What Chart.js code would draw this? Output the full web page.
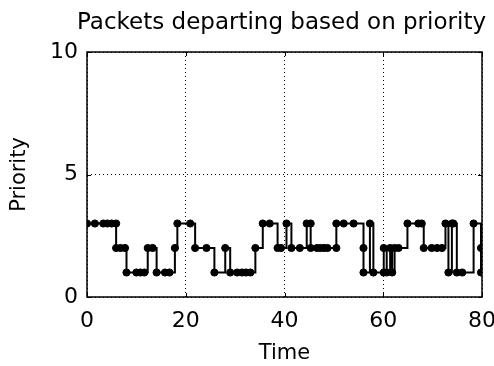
<!DOCTYPE html>
<html>
<head>
<meta charset="utf-8">
<script src="https://cdn.jsdelivr.net/npm/chart.js@4/dist/chart.umd.min.js"></script>
<style>
    html, body { margin: 0; padding: 0; background: #fff; }
    #wrap { width: 494px; height: 366px; }
</style>
</head>
<body>
<div id="wrap"><canvas id="priorityChart" width="494" height="366"></canvas></div>
<script>
// departure times and priorities
const times = [
    0, 1.6, 3.3, 4.1, 5.0, 5.9, 5.9, 6.8, 7.7, 8.0,
    10.0, 10.8, 11.6, 12.3, 13.3, 14.1, 15.8, 16.7, 17.8, 18.3,
    20.9, 21.9, 24.2, 25.8, 28.0, 29.0, 30.4, 31.4, 32.2, 33.1,
    34.1, 35.6, 37.0, 38.6, 39.3, 40.4, 41.4, 43.1, 44.5, 45.3,
    45.3, 46.6, 47.3, 48.0, 48.7, 50.5, 50.5, 52.0, 54.0, 56.0,
    56.0, 57.3, 58.0, 60.1, 60.1, 60.7, 61.4, 61.8, 62.3, 63.1,
    64.9, 67.1, 67.8, 68.2, 69.8, 70.9, 71.9, 72.6, 73.2, 73.9,
    74.2, 74.9, 76.0, 78.3, 79.8, 79.8
];
const priorities = [
    3, 3, 3, 3, 3, 3, 2, 2, 2, 1,
    1, 1, 1, 2, 2, 1, 1, 1, 2, 3,
    3, 2, 2, 1, 2, 1, 1, 1, 1, 1,
    2, 3, 3, 2, 2, 3, 2, 2, 3, 3,
    2, 2, 2, 2, 2, 2, 3, 3, 3, 2,
    1, 3, 1, 1, 2, 1, 2, 1, 2, 2,
    3, 3, 3, 2, 2, 2, 2, 3, 1, 3,
    3, 1, 1, 3, 2, 1
];
const xTicks = [0, 20, 40, 60, 80];
const yTicks = [0, 5, 10];

const titleText = 'Packets departing based on priority';
const fontFamily = '"DejaVu Sans", "Liberation Sans", Arial, sans-serif';

// title centred over the plot area, plus the axes box and inward ticks
const frame = {
    id: 'frame',
    afterDraw(chart) {
        const { ctx, chartArea: a, scales } = chart;
        ctx.save();
        ctx.strokeStyle = '#000';
        ctx.lineWidth = 1.5;
        ctx.strokeRect(a.left, a.top, a.right - a.left, a.bottom - a.top);

        ctx.lineWidth = 1;
        ctx.beginPath();
        xTicks.forEach(v => {
            const px = Math.round(scales.x.getPixelForValue(v)) + 0.5;
            ctx.moveTo(px, a.bottom); ctx.lineTo(px, a.bottom - 4);
            ctx.moveTo(px, a.top); ctx.lineTo(px, a.top + 4);
        });
        yTicks.forEach(v => {
            const py = Math.round(scales.y.getPixelForValue(v)) + 0.5;
            ctx.moveTo(a.left, py); ctx.lineTo(a.left + 4, py);
            ctx.moveTo(a.right, py); ctx.lineTo(a.right - 4, py);
        });
        ctx.stroke();

        ctx.fillStyle = '#000';
        ctx.font = '23px ' + fontFamily;
        ctx.textAlign = 'center';
        ctx.textBaseline = 'alphabetic';
        ctx.fillText(titleText, (a.left + a.right) / 2 - 3, 29);
        ctx.restore();
    }
};

const ctx = document.getElementById('priorityChart');
new Chart(ctx, {
    type: 'line',
    data: {
        datasets: [{
            data: times.map((t, i) => ({ x: t, y: priorities[i] })),
            stepped: 'before',
            borderColor: '#000',
            borderWidth: 2,
            pointRadius: 3.6,
            pointBackgroundColor: '#000',
            pointBorderColor: '#000',
            pointBorderWidth: 1,
            fill: false
        }]
    },
    options: {
        responsive: false,
        animation: false,
        layout: { padding: { top: 52, right: 12, left: 0, bottom: 0 } },
        plugins: {
            legend: { display: false },
            title: { display: false },
            tooltip: { enabled: false }
        },
        scales: {
            x: {
                type: 'linear',
                min: 0,
                max: 80,
                afterFit: s => { s.height = 69; s.paddingRight = 0; s.paddingLeft = 0; },
                afterBuildTicks: s => { s.ticks = xTicks.map(v => ({ value: v })); },
                grid: { color: '#000', lineWidth: 1, drawTicks: false },
                border: { display: false, dash: [1, 3] },
                ticks: { color: '#000', padding: 11, font: { family: fontFamily, size: 22 } },
                title: {
                    display: true,
                    text: 'Time',
                    color: '#000',
                    padding: { top: 0, bottom: 0 },
                    font: { family: fontFamily, size: 21 }
                }
            },
            y: {
                min: 0,
                max: 10,
                afterFit: s => { s.width = 87; },
                afterBuildTicks: s => { s.ticks = yTicks.map(v => ({ value: v })); },
                grid: { color: '#000', lineWidth: 1, drawTicks: false },
                border: { display: false, dash: [1, 3] },
                ticks: { color: '#000', padding: 9, font: { family: fontFamily, size: 22 } },
                title: {
                    display: true,
                    text: 'Priority',
                    color: '#000',
                    padding: { top: 7, bottom: 0 },
                    font: { family: fontFamily, size: 21 }
                }
            }
        }
    },
    plugins: [frame]
});
</script>
</body>
</html>
